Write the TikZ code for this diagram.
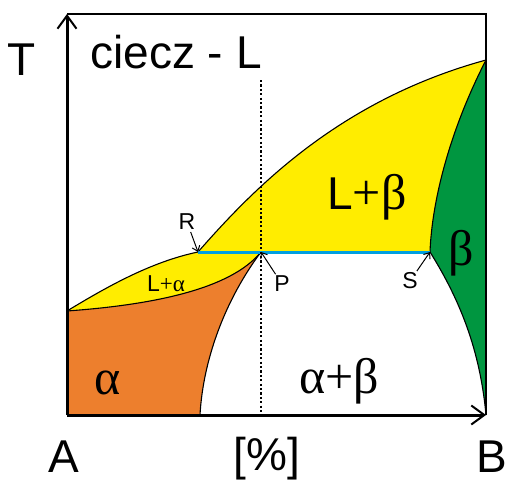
\documentclass[tikz,border=0pt]{standalone}
\usepackage{fontspec}
\setmainfont{Liberation Sans}
\newfontfamily\grf{Liberation Serif}
\usetikzlibrary{arrows.meta}
\definecolor{cyel}{RGB}{255,237,0}
\definecolor{cora}{RGB}{237,127,45}
\definecolor{cgrn}{RGB}{0,150,64}
\definecolor{cblu}{RGB}{0,160,225}
\begin{document}
\begin{tikzpicture}[x=1pt,y=-1pt,
  big/.style={font=\fontsize{46}{50}\selectfont, inner sep=0pt},
  gk/.style={font=\grf\fontsize{50}{54}\selectfont, inner sep=0pt},
  sm/.style={font=\fontsize{23}{26}\selectfont, inner sep=0pt},
  bound/.style={line width=1.1pt, black},
  axis/.style={line width=3pt, -{Straight Barb[length=13pt,width=19pt,line width=2pt]}},
  frame/.style={line width=2.2pt},
  ptr/.style={line width=1pt, -{Straight Barb[length=5pt,width=8pt]}, shorten <=2pt}]
\useasboundingbox (0,0) rectangle (509,482);
% key points
\coordinate (O) at (67,415);
\coordinate (TL) at (67,14);
\coordinate (TR) at (486,14);
\coordinate (BR) at (486,415);
\coordinate (TA) at (67,311);
\coordinate (TB) at (486,60);
\coordinate (R) at (198,252);
\coordinate (P) at (261,252);
\coordinate (S) at (430,252);
\coordinate (Q) at (200,415);
\coordinate (D1) at (261,80);
\coordinate (D2) at (261,415);
% fills
\fill[cyel] (TA) .. controls (105,288) and (150,262) .. (R) -- (P) .. controls (230,290) and (150,305) .. (TA) -- cycle;
\fill[cyel] (R) .. controls (255,187) and (340,100) .. (TB) .. controls (450,130) and (432,200) .. (S) -- cycle;
\fill[cora] (TA) .. controls (150,305) and (230,290) .. (P) .. controls (225,300) and (203,360) .. (Q) -- (O) -- cycle;
\fill[cgrn] (TB) .. controls (450,130) and (432,200) .. (S) .. controls (460,300) and (480,350) .. (BR) -- cycle;
% boundaries
\draw[bound] (TA) .. controls (105,288) and (150,262) .. (R);
\draw[bound] (R) .. controls (255,187) and (340,100) .. (TB);
\draw[bound] (TA) .. controls (150,305) and (230,290) .. (P);
\draw[bound] (P) .. controls (225,300) and (203,360) .. (Q);
\draw[bound] (TB) .. controls (450,130) and (432,200) .. (S);
\draw[bound] (S) .. controls (460,300) and (480,350) .. (BR);
% eutectic line
\draw[cblu, line width=3pt] (R) -- (S);
% dotted line
\draw[line width=2.8pt, dash pattern=on 2.2pt off 2.2pt] (D1) -- (D2);
% frame and axes
\draw[frame] (TL) -- (TR) -- (BR);
\draw[axis] (O) -- (TL);
\draw[axis] (O) -- (BR);
% labels
\node[big] (T) at (22,60) {T};
\node[big] (liq) at (176,52) {ciecz - L};
\node[big] (A) at (64,457) {A};
\node[big] (B) at (492,457) {B};
\node[big] (pc) at (267,459) {[\%]};
\node[gk] (alpha) at (108,383) {α};
\node[gk] (beta) at (461,253) {β};
\node (lb) at (367,197) {\fontsize{46}{50}\selectfont L\grf\fontsize{50}{54}\selectfont+β};
\node[gk] (ab) at (339,381) {α+β};
\node[sm] (Rl) at (187,222) {R};
\node[sm] (Pl) at (282,284) {P};
\node[sm] (Sl) at (410,281) {S};
\node[sm] (La) at (166,284) {L\grf +α};
% pointers
\draw[ptr] (Rl) -- (R);
\draw[ptr] (Pl) -- (P);
\draw[ptr] (Sl) -- (S);
\end{tikzpicture}
\end{document}
